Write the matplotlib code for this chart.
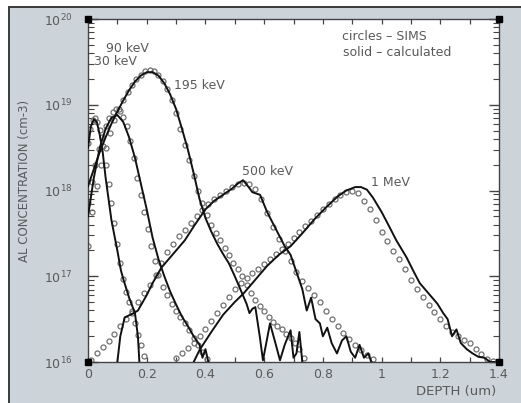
import numpy as np
import matplotlib
matplotlib.use("Agg")
import matplotlib.pyplot as plt
from matplotlib.patches import Rectangle
from matplotlib.ticker import MultipleLocator, LogLocator, FixedLocator, FuncFormatter

d30c = [0.0, 0.01, 0.02, 0.03, 0.04, 0.05, 0.06, 0.08, 0.1, 0.112, 0.12, 0.14, 0.16, 0.17, 0.175]
l30c = [18.5, 18.75, 18.83, 18.8, 18.65, 18.45, 18.15, 17.65, 17.3, 17.07, 16.97, 16.75, 16.57, 16.3, 16.0]
d30s = [0.0, 0.008, 0.016, 0.024, 0.032, 0.04, 0.05, 0.06, 0.07, 0.08, 0.09, 0.1,
        0.11, 0.12, 0.13, 0.14, 0.15, 0.16, 0.17, 0.18, 0.19]
l30s = [18.55, 18.72, 18.82, 18.84, 18.8, 18.7, 18.52, 18.3, 18.08, 17.85, 17.62, 17.38,
        17.15, 16.97, 16.82, 16.7, 16.57, 16.45, 16.32, 16.2, 16.07]

d90c = [0.0, 0.02, 0.04, 0.06, 0.08, 0.1, 0.12, 0.14, 0.16, 0.18, 0.2, 0.22, 0.24, 0.26,
        0.28, 0.3, 0.32, 0.34, 0.36, 0.38, 0.39, 0.4, 0.41]
l90c = [17.7, 18.15, 18.5, 18.72, 18.85, 18.88, 18.8, 18.62, 18.38, 18.08, 17.78, 17.45,
        17.2, 17.0, 16.82, 16.67, 16.53, 16.42, 16.3, 16.2, 16.05, 16.15, 16.0]
d90s = [0.0, 0.012, 0.024, 0.036, 0.048, 0.06, 0.072, 0.084, 0.096, 0.108, 0.12, 0.132,
        0.144, 0.156, 0.168, 0.18, 0.192, 0.204, 0.216, 0.228, 0.24, 0.255, 0.27, 0.285,
        0.3, 0.315, 0.33, 0.345, 0.36, 0.375, 0.39, 0.405]
l90s = [17.85, 18.1, 18.3, 18.48, 18.62, 18.75, 18.85, 18.92, 18.95, 18.93, 18.86, 18.75,
        18.58, 18.38, 18.15, 17.95, 17.75, 17.55, 17.35, 17.18, 17.02, 16.88, 16.78, 16.68,
        16.6, 16.52, 16.45, 16.37, 16.28, 16.2, 16.12, 16.04]

d195c = [0.0, 0.02, 0.04, 0.06, 0.08, 0.1, 0.12, 0.14, 0.16, 0.18, 0.2, 0.22, 0.24, 0.26,
         0.28, 0.3, 0.32, 0.34, 0.36, 0.38, 0.4, 0.42, 0.44, 0.46, 0.48, 0.5, 0.52, 0.54,
         0.55, 0.56, 0.57, 0.585, 0.596, 0.62, 0.64, 0.654, 0.67, 0.69, 0.7, 0.71, 0.72, 0.73]
l195c = [18.05, 18.25, 18.45, 18.62, 18.78, 18.92, 19.05, 19.17, 19.27, 19.34, 19.38, 19.38,
         19.34, 19.25, 19.12, 18.95, 18.72, 18.48, 18.2, 17.9, 17.68, 17.52, 17.38, 17.26,
         17.15, 17.0, 16.84, 16.68, 16.57, 16.62, 16.64, 16.3, 16.02, 16.45, 16.2, 16.02,
         16.2, 16.37, 16.05, 16.1, 16.35, 16.0]
d195s = [0.0, 0.015, 0.03, 0.045, 0.06, 0.075, 0.09, 0.105, 0.12, 0.135, 0.15, 0.165, 0.18,
         0.195, 0.21, 0.225, 0.24, 0.255, 0.27, 0.285, 0.3, 0.315, 0.33, 0.345, 0.36, 0.375,
         0.39, 0.405, 0.42, 0.435, 0.45, 0.465, 0.48, 0.495, 0.51, 0.525, 0.54, 0.555, 0.57,
         0.585, 0.6, 0.615, 0.63, 0.645, 0.66, 0.675, 0.69, 0.705, 0.72, 0.735]
l195s = [17.35, 17.75, 18.05, 18.3, 18.5, 18.67, 18.82, 18.95, 19.06, 19.15, 19.23, 19.3,
         19.35, 19.39, 19.4, 19.39, 19.35, 19.28, 19.18, 19.05, 18.9, 18.72, 18.53, 18.35,
         18.17, 18.0, 17.85, 17.72, 17.6, 17.5, 17.42, 17.33, 17.25, 17.16, 17.08, 17.0,
         16.9, 16.8, 16.72, 16.65, 16.6, 16.53, 16.47, 16.42, 16.38, 16.33, 16.28, 16.22,
         16.15, 16.05]

d500c = [0.1, 0.11, 0.125, 0.15, 0.17, 0.2, 0.22, 0.25, 0.28, 0.3, 0.33, 0.36, 0.38, 0.4,
         0.43, 0.46, 0.49, 0.51, 0.528, 0.545, 0.56, 0.586, 0.61, 0.64, 0.67, 0.69, 0.71,
         0.73, 0.745, 0.76, 0.775, 0.79, 0.8, 0.815, 0.83, 0.848, 0.865, 0.88, 0.895, 0.91,
         0.925, 0.94, 0.955, 0.965]
l500c = [16.0, 16.3, 16.52, 16.56, 16.6, 16.78, 16.92, 17.1, 17.22, 17.3, 17.42, 17.58,
         17.68, 17.78, 17.88, 17.95, 18.02, 18.08, 18.12, 18.05, 17.98, 17.95, 17.75, 17.55,
         17.35, 17.25, 17.05, 16.85, 16.6, 16.75, 16.5, 16.45, 16.3, 16.4, 16.22, 16.1,
         16.25, 16.3, 16.12, 16.05, 16.2, 16.05, 16.1, 16.0]
d500s = [0.01, 0.03, 0.05, 0.07, 0.09, 0.11, 0.13, 0.15, 0.17, 0.19, 0.21, 0.23, 0.25, 0.27,
         0.29, 0.31, 0.33, 0.35, 0.37, 0.39, 0.41, 0.43, 0.45, 0.47, 0.49, 0.51, 0.53, 0.55,
         0.57, 0.59, 0.61, 0.63, 0.65, 0.67, 0.69, 0.71, 0.73, 0.75, 0.77, 0.79, 0.81, 0.83,
         0.85, 0.87, 0.89, 0.91, 0.93, 0.95, 0.97]
l500s = [16.02, 16.1, 16.18, 16.25, 16.33, 16.42, 16.5, 16.6, 16.7, 16.8, 16.9, 17.02, 17.15,
         17.28, 17.38, 17.47, 17.54, 17.62, 17.7, 17.77, 17.84, 17.9, 17.95, 18.0, 18.04,
         18.07, 18.09, 18.08, 18.02, 17.9, 17.74, 17.58, 17.43, 17.3, 17.18, 17.05, 16.95,
         16.86, 16.78, 16.7, 16.6, 16.5, 16.42, 16.34, 16.27, 16.2, 16.14, 16.08, 16.03]

d1c = [0.36, 0.38, 0.42, 0.46, 0.5, 0.53, 0.57, 0.61, 0.65, 0.69, 0.73, 0.77, 0.81, 0.85,
       0.88, 0.91, 0.93, 0.95, 0.97, 1.0, 1.02, 1.05, 1.085, 1.11, 1.13, 1.16, 1.19, 1.21,
       1.225, 1.24, 1.255, 1.27, 1.29, 1.31, 1.33, 1.35, 1.37, 1.385]
l1c = [16.0, 16.14, 16.35, 16.55, 16.7, 16.8, 16.96, 17.12, 17.25, 17.35, 17.5, 17.66,
       17.8, 17.93, 18.0, 18.04, 18.04, 18.01, 17.92, 17.75, 17.62, 17.42, 17.22, 17.05,
       16.92, 16.8, 16.68, 16.57, 16.5, 16.3, 16.38, 16.22, 16.15, 16.1, 16.06, 16.05,
       16.0, 16.0]
d1s = [0.3, 0.32, 0.34, 0.36, 0.38, 0.4, 0.42, 0.44, 0.46, 0.48, 0.5, 0.52, 0.54, 0.56,
       0.58, 0.6, 0.62, 0.64, 0.66, 0.68, 0.7, 0.72, 0.74, 0.76, 0.78, 0.8, 0.82, 0.84,
       0.86, 0.88, 0.9, 0.92, 0.94, 0.96, 0.98, 1.0, 1.02, 1.04, 1.06, 1.08, 1.1, 1.12,
       1.14, 1.16, 1.18, 1.2, 1.22, 1.24, 1.26, 1.28, 1.3, 1.32, 1.34, 1.36, 1.38]
l1s = [16.05, 16.1, 16.16, 16.22, 16.3, 16.39, 16.48, 16.57, 16.66, 16.76, 16.85, 16.92,
       16.98, 17.04, 17.09, 17.14, 17.2, 17.26, 17.32, 17.38, 17.45, 17.52, 17.59, 17.65,
       17.72, 17.78, 17.84, 17.9, 17.95, 17.98, 18.0, 17.97, 17.88, 17.78, 17.66, 17.52,
       17.41, 17.3, 17.2, 17.08, 16.96, 16.85, 16.76, 16.66, 16.58, 16.5, 16.42, 16.35,
       16.3, 16.26, 16.22, 16.15, 16.09, 16.04, 16.01]

sims = [(d30s, l30s), (d90s, l90s), (d195s, l195s), (d500s, l500s), (d1s, l1s)]
calc = [(d30c, l30c), (d90c, l90c), (d195c, l195c), (d500c, l500c), (d1c, l1c)]
labels = [("90 keV", 0.136, 19.66), ("30 keV", 0.095, 19.51), ("195 keV", 0.381, 19.23),
          ("500 keV", 0.613, 18.22), ("1 MeV", 1.029, 18.09)]

TXT = "#5a5a5a"
W, H = 521, 403
fig = plt.figure(figsize=(W / 100, H / 100), dpi=100, facecolor="white")
fig.patches.append(Rectangle((9 / W, -0.02), 1.0, 1 - 7 / H + 0.02, transform=fig.transFigure,
                             fc="#ccd4d9", ec="#3a3a3a", lw=1.4, zorder=-10))
ax = fig.add_axes([88 / W, 1 - 362 / H, (499 - 88) / W, (362 - 19) / H])
ax.set_facecolor("white")

for d, l in sims:
    ax.plot(d, 10 ** np.array(l), ls="none", marker="o", mfc="none", mec="#707070",
            ms=3.6, mew=0.9, zorder=2)
for d, l in calc:
    ax.plot(d, 10 ** np.array(l), color="#111111", lw=1.4, zorder=3)

ax.set_yscale("log")
ax.set_xlim(0, 1.4)
ax.set_ylim(1e16, 1e20)
ax.xaxis.set_major_locator(MultipleLocator(0.2))
ax.xaxis.set_minor_locator(MultipleLocator(0.1))
ax.xaxis.set_major_formatter(FuncFormatter(lambda v, p: f"{v:g}"))
ax.yaxis.set_major_locator(FixedLocator([1e16, 1e17, 1e18, 1e19, 1e20]))
ax.yaxis.set_minor_locator(LogLocator(base=10, subs=np.arange(2, 10)))
ax.tick_params(which="both", direction="in", top=True, right=True, colors="#444444",
               labelcolor=TXT, labelsize=9)
ax.tick_params(axis="y", which="major", length=7, width=1, pad=11)
ax.tick_params(axis="y", which="minor", length=4, width=0.8)
ax.tick_params(axis="x", which="both", length=3.5, width=0.9, pad=4)
for s in ax.spines.values():
    s.set_color("#444444")
    s.set_linewidth(1.0)

# corner markers
ax.plot([0, 1, 0, 1], [0, 0, 1, 1], ls="none", marker="s", ms=4.5, color="black",
        transform=ax.transAxes, clip_on=False, zorder=5)

for txt, x, y in labels:
    ax.text(x, 10 ** y, txt, ha="center", va="center", fontsize=9, color=TXT)
ax.text((342 - 88) / (499 - 88), 0.95, "circles \u2013 SIMS", transform=ax.transAxes,
        ha="left", va="center", fontsize=9, color=TXT)
ax.text((343 - 88) / (499 - 88), 0.903, "solid \u2013 calculated", transform=ax.transAxes,
        ha="left", va="center", fontsize=9, color=TXT)

fig.text(25 / W, 1 - 181 / H, "AL CONCENTRATION (cm-3)", rotation=90, ha="center",
         va="center", fontsize=8.5, color=TXT)
fig.text(456 / W, 1 - 392 / H, "DEPTH (um)", ha="center", va="center", fontsize=9.5,
         color=TXT)

fig.savefig("out.png", dpi=100, facecolor=fig.get_facecolor())
